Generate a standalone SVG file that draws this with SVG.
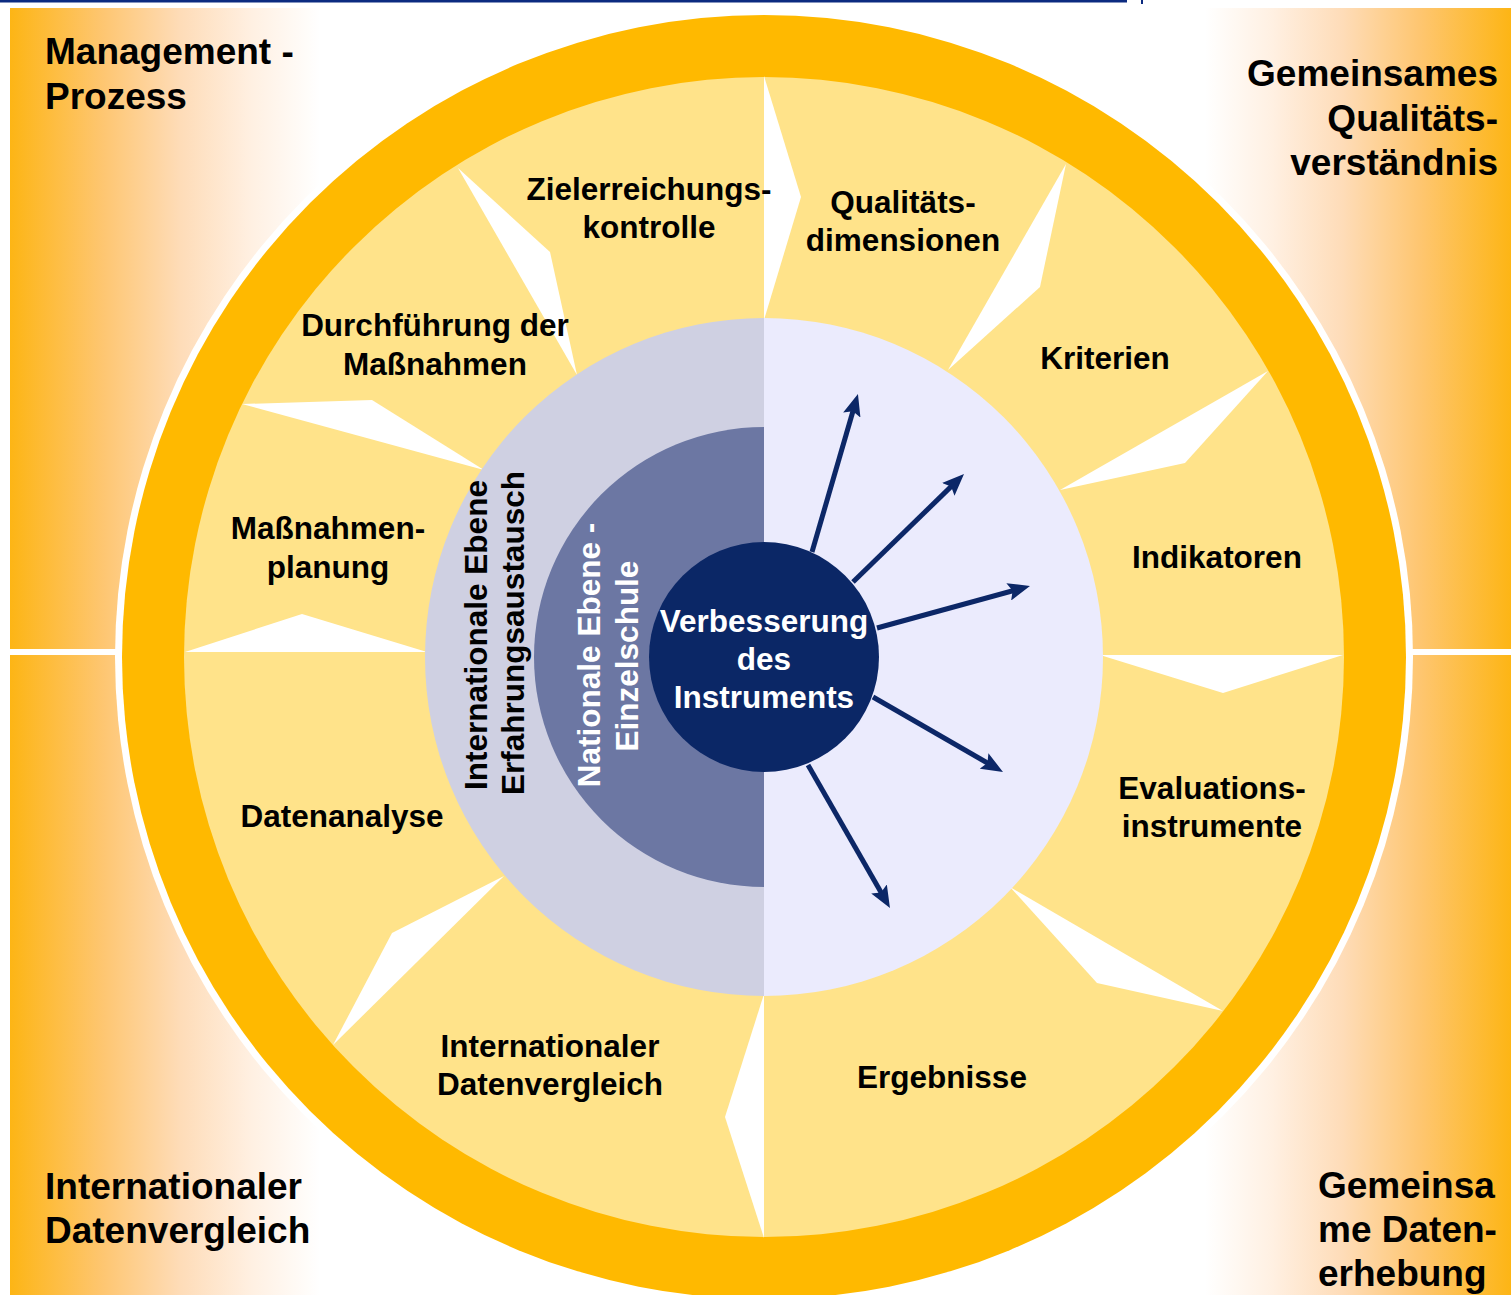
<svg xmlns="http://www.w3.org/2000/svg" width="1511" height="1295" viewBox="0 0 1511 1295">
  <style>
    text { font-family: "Liberation Sans", Arial, Helvetica, sans-serif; font-weight: bold; }
    .corner { font-size: 37px; fill: #000; }
    .seg { font-size: 31.5px; fill: #000; text-anchor: middle; }
    .inv { font-size: 31.5px; fill: #fff; text-anchor: middle; }
    .spike { fill: #fff; }
    .ray { stroke: #0C2767; stroke-width: 5; fill: none; marker-end: url(#head); }
  </style>
  <defs>
    <linearGradient id="fadeL" gradientUnits="userSpaceOnUse" x1="10" y1="0" x2="320" y2="0">
      <stop offset="0" stop-color="#FDB515"/>
      <stop offset="0.3" stop-color="#FEC671"/>
      <stop offset="0.55" stop-color="#FEDCB8"/>
      <stop offset="0.78" stop-color="#FFF0E2"/>
      <stop offset="1" stop-color="#FFFFFF"/>
    </linearGradient>
    <linearGradient id="fadeR" gradientUnits="userSpaceOnUse" x1="1511" y1="0" x2="1205" y2="0">
      <stop offset="0" stop-color="#FDB515"/>
      <stop offset="0.3" stop-color="#FEC671"/>
      <stop offset="0.55" stop-color="#FEDCB8"/>
      <stop offset="0.78" stop-color="#FFF0E2"/>
      <stop offset="1" stop-color="#FFFFFF"/>
    </linearGradient>
    <marker id="head" markerUnits="userSpaceOnUse" viewBox="0 0 22 18" markerWidth="22" markerHeight="18" refX="10" refY="9" orient="auto">
      <path d="M0,0 L22,9 L0,18 L4,9 Z" fill="#0C2767"/>
    </marker>
  </defs>

  <!-- header rule -->
  <rect x="0" y="0" width="1127" height="2.5" fill="#0C2B80"/>
  <rect x="1141" y="0" width="2" height="4" fill="#0C2B80"/>

  <!-- four background quadrants -->
  <g id="quadrants">
    <rect x="10" y="8" width="752" height="641" fill="url(#fadeL)"/>
    <rect x="768" y="8" width="743" height="641" fill="url(#fadeR)"/>
    <rect x="10" y="655" width="752" height="640" fill="url(#fadeL)"/>
    <rect x="768" y="655" width="743" height="640" fill="url(#fadeR)"/>
  </g>

  <!-- wheel: white rim, orange ring, yellow field -->
  <g id="wheel">
    <circle cx="764" cy="657" r="649" fill="#FFFFFF"/>
    <circle cx="764" cy="657" r="642" fill="#FFB900"/>
    <circle cx="764" cy="657" r="580" fill="#FFE38A"/>
  </g>

  <!-- white pointers between the cycle steps -->
  <g id="cycle-pointers">
    <polygon class="spike" points="764,76 801,197 764,320"/>
    <polygon class="spike" points="1066,164 1040,287 948,370"/>
    <polygon class="spike" points="1268,371 1185,463 1060,490"/>
    <polygon class="spike" points="1100,655 1343,655 1223,693"/>
    <polygon class="spike" points="1010,887 1097,983 1223,1011"/>
    <polygon class="spike" points="764,994 725,1117 764,1238"/>
    <polygon class="spike" points="504,876 392,933 333,1045"/>
    <polygon class="spike" points="185,652 302,614 427,652"/>
    <polygon class="spike" points="242,404 372,400 484,470"/>
    <polygon class="spike" points="458,168 550,252 577,375"/>
  </g>

  <!-- levels -->
  <g id="level-international">
    <path d="M764,318 A339,339 0 0 0 764,996 Z" fill="#CFD0E2"/>
    <path d="M764,318 A339,339 0 0 1 764,996 Z" fill="#EBEBFD"/>
    <text class="seg" x="487" y="635" transform="rotate(-90 487 635)">Internationale Ebene</text>
    <text class="seg" x="524" y="633" transform="rotate(-90 524 633)">Erfahrungsaustausch</text>
  </g>
  <g id="level-national">
    <path d="M764,427 A230,230 0 0 0 764,887 Z" fill="#6C77A3"/>
    <text class="inv" x="600" y="655" transform="rotate(-90 600 655)">Nationale Ebene -</text>
    <text class="inv" x="638" y="656" transform="rotate(-90 638 656)">Einzelschule</text>
  </g>

  <!-- radial arrows out of the hub -->
  <g id="connectors">
    <line class="ray" x1="812" y1="552" x2="854.6" y2="405.5"/>
    <line class="ray" x1="853" y1="582" x2="955.4" y2="482.4"/>
    <line class="ray" x1="877" y1="628" x2="1018.4" y2="589.2"/>
    <line class="ray" x1="873" y1="697" x2="992.6" y2="766"/>
    <line class="ray" x1="808" y1="765" x2="884" y2="897.6"/>
  </g>

  <g id="hub">
    <circle cx="764" cy="657" r="115" fill="#0B2766"/>
    <text class="inv" x="764" y="632">Verbesserung</text>
    <text class="inv" x="764" y="670">des</text>
    <text class="inv" x="764" y="708">Instruments</text>
  </g>

  <!-- cycle steps -->
  <g id="step-zielerreichungskontrolle">
    <text class="seg" x="649" y="200">Zielerreichungs-</text>
    <text class="seg" x="649" y="238">kontrolle</text>
  </g>
  <g id="step-qualitaetsdimensionen">
    <text class="seg" x="903" y="213">Qualitäts-</text>
    <text class="seg" x="903" y="251">dimensionen</text>
  </g>
  <g id="step-kriterien">
    <text class="seg" x="1105" y="369">Kriterien</text>
  </g>
  <g id="step-indikatoren">
    <text class="seg" x="1217" y="568">Indikatoren</text>
  </g>
  <g id="step-evaluationsinstrumente">
    <text class="seg" x="1212" y="799">Evaluations-</text>
    <text class="seg" x="1212" y="837">instrumente</text>
  </g>
  <g id="step-ergebnisse">
    <text class="seg" x="942" y="1088">Ergebnisse</text>
  </g>
  <g id="step-datenvergleich">
    <text class="seg" x="550" y="1057">Internationaler</text>
    <text class="seg" x="550" y="1095">Datenvergleich</text>
  </g>
  <g id="step-datenanalyse">
    <text class="seg" x="342" y="827">Datenanalyse</text>
  </g>
  <g id="step-massnahmenplanung">
    <text class="seg" x="328" y="539">Maßnahmen-</text>
    <text class="seg" x="328" y="578">planung</text>
  </g>
  <g id="step-durchfuehrung">
    <text class="seg" x="435" y="336">Durchführung der</text>
    <text class="seg" x="435" y="375">Maßnahmen</text>
  </g>

  <!-- quadrant titles -->
  <g id="title-management">
    <text class="corner" x="45" y="64">Management -</text>
    <text class="corner" x="45" y="109">Prozess</text>
  </g>
  <g id="title-qualitaet">
    <text class="corner" x="1498" y="86" text-anchor="end">Gemeinsames</text>
    <text class="corner" x="1498" y="131" text-anchor="end">Qualitäts-</text>
    <text class="corner" x="1498" y="175" text-anchor="end">verständnis</text>
  </g>
  <g id="title-vergleich">
    <text class="corner" x="45" y="1199">Internationaler</text>
    <text class="corner" x="45" y="1243">Datenvergleich</text>
  </g>
  <g id="title-erhebung">
    <text class="corner" x="1318" y="1198">Gemeinsa</text>
    <text class="corner" x="1318" y="1242">me Daten-</text>
    <text class="corner" x="1318" y="1286">erhebung</text>
  </g>
</svg>
